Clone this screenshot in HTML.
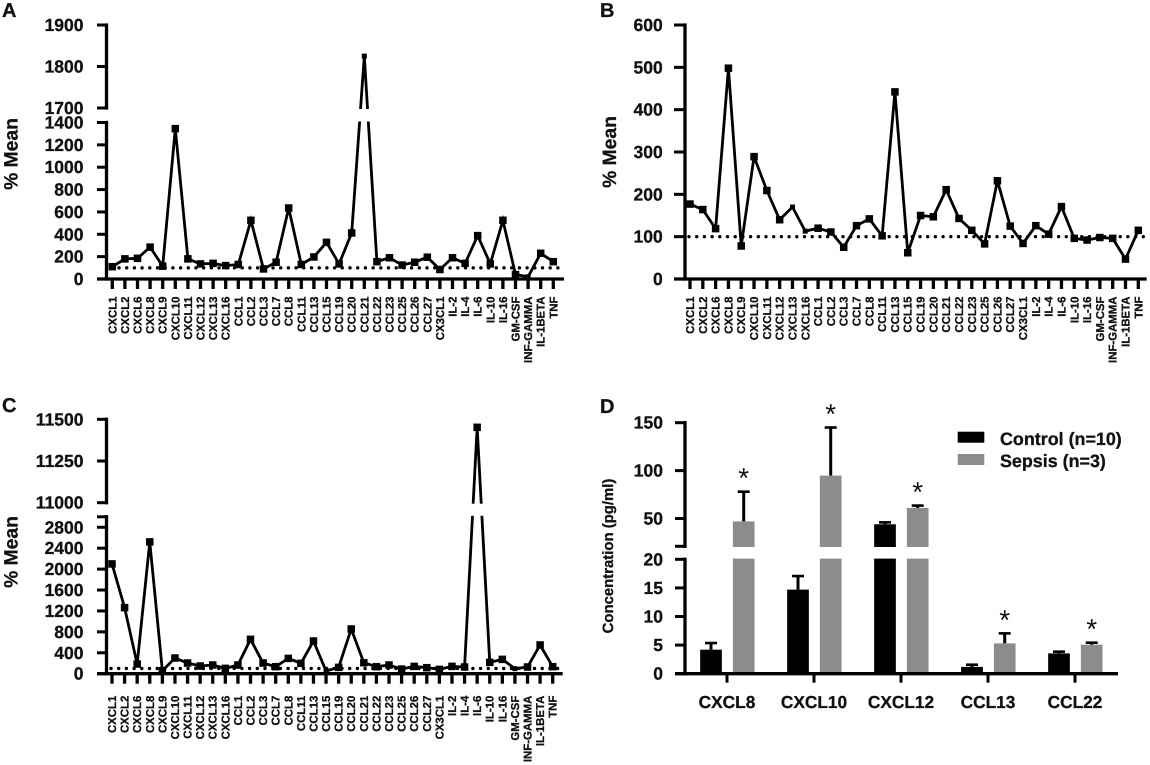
<!DOCTYPE html>
<html lang="en">
<head>
<meta charset="utf-8">
<title>Cytokine panels</title>
<style>
html,body{margin:0;padding:0;background:#fff;}
svg{display:block;font-family:"Liberation Sans",sans-serif;font-weight:bold;fill:#111;}
svg text{stroke:#111;stroke-width:.3px;text-rendering:geometricPrecision;}
svg text.star{stroke:none;}
</style>
</head>
<body>
<svg id="figure" xmlns="http://www.w3.org/2000/svg" width="1150" height="765" viewBox="0 0 1150 765">
  <rect x="0" y="0" width="1150" height="765" fill="#fff"/>
  <text x="2" y="17" font-size="20">A</text>
  <text x="600" y="17" font-size="20">B</text>
  <text x="2" y="412" font-size="20">C</text>
  <text x="600" y="413" font-size="20">D</text>
  <text transform="translate(17.5,154) rotate(-90)" text-anchor="middle" font-size="19.3">% Mean</text>
  <text transform="translate(616,152) rotate(-90)" text-anchor="middle" font-size="19.3">% Mean</text>
  <text transform="translate(17.5,552) rotate(-90)" text-anchor="middle" font-size="19.3">% Mean</text>
  <text transform="translate(613,556) rotate(-90)" text-anchor="middle" font-size="14.9">Concentration (pg/ml)</text>
  <g id="panel-a"></g>
  <g id="panel-b"></g>
  <g id="panel-c"></g>
  <g id="panel-d"></g>
  <g>
    <rect x="957.7" y="431.7" width="26.6" height="11" fill="#000"/>
    <rect x="957.7" y="454" width="26.6" height="11" fill="#8c8c8c"/>
    <text x="1000" y="445" font-size="17.9">Control (n=10)</text>
    <text x="1000" y="467" font-size="17.9">Sepsis (n=3)</text>
  </g>
</svg>
<script>
const categories = ['CXCL1','CXCL2','CXCL6','CXCL8','CXCL9','CXCL10','CXCL11','CXCL12','CXCL13','CXCL16','CCL1','CCL2','CCL3','CCL7','CCL8','CCL11','CCL13','CCL15','CCL19','CCL20','CCL21','CCL22','CCL23','CCL25','CCL26','CCL27','CX3CL1','IL-2','IL-4','IL-6','IL-10','IL-16','GM-CSF','INF-GAMMA','IL-1BETA','TNF'];
const panelAValues = [110,180,185,285,115,1345,180,135,140,120,130,525,90,150,635,130,197,328,135,412,1825,155,190,125,150,195,85,190,140,388,135,525,40,20,230,155];
const panelBValues = [177,164,119,498,78,289,209,140,170,113,120,111,75,126,142,102,442,62,150,147,211,143,115,83,232,125,84,126,106,171,96,92,98,96,47,115];
const panelCValues = [2099,1263,185,2520,57,300,204,147,166,102,166,657,204,134,293,198,625,51,121,855,210,134,166,89,140,115,83,140,128,11452,217,274,96,128,549,134];
const referenceLevel = 100;
const panelASmallMarkers = ['CCL21','INF-GAMMA'];
const panelBSmallMarkers = ['CXCL13','CXCL16'];
const panelCSmallMarkers = ['GM-CSF','CCL15'];
const panelATicks = [0,200,400,600,800,1000,1200,1400,1700,1800,1900];
const panelBTicks = [0,100,200,300,400,500,600];
const panelCTicks = [0,400,800,1200,1600,2000,2400,2800,11000,11250,11500];
const barCategories = ['CXCL8','CXCL10','CXCL12','CCL13','CCL22'];
const controlMeans = [4.2,14.7,44,1.2,3.55];
const controlErrorTops = [5.36,17.07,46,1.57,3.85];
const sepsisMeans = [47,94.8,61,5.3,5.07];
const sepsisErrorTops = [78,145,63.5,7.05,5.42];
const panelDTicks = [0,5,10,15,20,50,100,150];

const NS = 'http://www.w3.org/2000/svg';
function make(parent, tag, attrs, text) {
  const el = document.createElementNS(NS, tag);
  for (const k in attrs) el.setAttribute(k, attrs[k]);
  if (text !== undefined) el.textContent = text;
  parent.appendChild(el);
  return el;
}
function linear(d0, d1, r0, r1) {
  return v => r0 + (v - d0) * (r1 - r0) / (d1 - d0);
}
function brokenScale(low, high) {
  const a = linear(low.d[0], low.d[1], low.r[0], low.r[1]);
  if (!high) return a;
  const b = linear(high.d[0], high.d[1], high.r[0], high.r[1]);
  const m = linear(low.d[1], high.d[0], low.r[1], high.r[0]);
  return v => v <= low.d[1] ? a(v) : v >= high.d[0] ? b(v) : m(v);
}
function drawYAxis(g, axisX, tickLeft, labelRight, low, high, y, ticks) {
  let el = make(g, 'line', {x1: axisX, x2: axisX, y1: low.r[0], y2: low.r[1], stroke: '#000', 'stroke-width': 3.3, 'stroke-linecap': 'square'});
  
  
  if (high) {
    el = make(g, 'line', {x1: axisX, x2: axisX, y1: high.r[0], y2: high.r[1], stroke: '#000', 'stroke-width': 3.3, 'stroke-linecap': 'square'});
    
    
  }
  const unlabelled = [low.d[1], high ? high.d[0] : low.d[1]].filter(v => !ticks.includes(v));
  unlabelled.forEach(v => {
    const t = make(g, 'line', {x1: tickLeft, x2: axisX, y1: y(v), y2: y(v), stroke: '#000', 'stroke-width': 3});
    
    
  });
  ticks.forEach(v => {
    const t = make(g, 'line', {x1: tickLeft, x2: axisX, y1: y(v), y2: y(v), stroke: '#000', 'stroke-width': 3});
    
    
    const l = make(g, 'text', {x: labelRight, y: y(v) + 6, 'text-anchor': 'end', 'font-size': 17.5}, String(v));
    
    
  });
}
function drawLinePanel(id, values, smallMarkers, ticks, cfg) {
  const g = document.getElementById(id);
  const x = linear(0, categories.length - 1, cfg.x0, cfg.x1);
  const y = brokenScale(cfg.low, cfg.high);
  const ref = make(g, 'line', {x1: cfg.x0 - 1, x2: cfg.dotEnd, y1: y(referenceLevel), y2: y(referenceLevel), stroke: '#000', 'stroke-width': 3.4, 'stroke-dasharray': '0 7.7', 'stroke-linecap': 'round'});
  
  
  const pts = values.map((v, i) => x(i).toFixed(2) + ',' + y(v).toFixed(2)).join(' ');
  const line = make(g, 'polyline', {points: pts, fill: 'none', stroke: '#000', 'stroke-width': 2.8, 'stroke-linejoin': 'miter'});
  
  
  values.forEach((v, i) => {
    const s = smallMarkers.includes(categories[i]) ? 5 : 7.5;
    const m = make(g, 'rect', {x: x(i) - s / 2, y: y(v) - s / 2, width: s, height: s, fill: '#000'});
    
    
  });
  if (cfg.high) {
    const gap = make(g, 'rect', {x: cfg.axisX + 2, y: cfg.high.r[0] + 1, width: cfg.xEnd - cfg.axisX, height: cfg.low.r[1] - cfg.high.r[0] - 2, fill: '#fff'});
    
    
  }
  drawYAxis(g, cfg.axisX, cfg.tickLeft, cfg.labelRight, cfg.low, cfg.high, y, ticks);
  const y0 = y(0);
  const axis = make(g, 'line', {x1: cfg.tickLeft, x2: cfg.xEnd, y1: y0, y2: y0, stroke: '#000', 'stroke-width': 3.3});
  
  
  categories.forEach((c, i) => {
    const t = make(g, 'line', {x1: x(i), x2: x(i), y1: y0, y2: y0 + 10, stroke: '#000', 'stroke-width': 3.3});
    
    
    const l = make(g, 'text', {transform: 'translate(' + (x(i) + 4) + ',' + (y0 + cfg.labelGap) + ') rotate(-90)', 'text-anchor': 'end', 'font-size': 11.4}, c);
    
    
  });
}
function drawBarPanel() {
  const g = document.getElementById('panel-d');
  const low = {d: [0, 20], r: [673.7, 559.3]};
  const high = {d: [21, 150], r: [546.3, 422.7]};
  const y = brokenScale(low, high);
  const x = linear(0, barCategories.length - 1, 727, 1075);
  const barW = 21.7;
  function drawErr(cx, top, base, name) {
    const st = make(g, 'line', {x1: cx, x2: cx, y1: y(top), y2: y(base), stroke: '#000', 'stroke-width': 3});
    
    
    const cap = make(g, 'line', {x1: cx - 6, x2: cx + 6, y1: y(top), y2: y(top), stroke: '#000', 'stroke-width': 2.6});
    
    
  }
  barCategories.forEach((c, i) => {
    const cx1 = x(i) - 16, cx2 = x(i) + 16.7;
    drawErr(cx1, controlErrorTops[i], controlMeans[i], 'control-' + c.toLowerCase());
    drawErr(cx2, sepsisErrorTops[i], sepsisMeans[i], 'sepsis-' + c.toLowerCase());
    const b1 = make(g, 'rect', {x: cx1 - barW / 2, y: y(controlMeans[i]), width: barW, height: y(0) - y(controlMeans[i]), fill: '#000'});
    
    
    const b2 = make(g, 'rect', {x: cx2 - barW / 2, y: y(sepsisMeans[i]), width: barW, height: y(0) - y(sepsisMeans[i]), fill: '#8c8c8c'});
    
    
    const star = make(g, 'text', {class: 'star', x: cx2, y: y(sepsisErrorTops[i]) - 4, 'text-anchor': 'middle', 'font-size': 28, 'font-weight': 'normal'}, '*');
    
    
  });
  const gap = make(g, 'rect', {x: 687, y: 547, width: 430, height: 11.6, fill: '#fff'});
  
  
  drawYAxis(g, 685, 675, 663, low, high, y, panelDTicks);
  const axis = make(g, 'line', {x1: 675, x2: 1118, y1: y(0), y2: y(0), stroke: '#000', 'stroke-width': 3.3});
  
  
  barCategories.forEach((c, i) => {
    const t = make(g, 'line', {x1: x(i), x2: x(i), y1: y(0), y2: y(0) + 9, stroke: '#000', 'stroke-width': 3});
    
    
    const l = make(g, 'text', {x: x(i), y: 708, 'text-anchor': 'middle', 'font-size': 17.3}, c);
    
    
  });
}
drawLinePanel('panel-a', panelAValues, panelASmallMarkers, panelATicks, {
  x0: 112.3, x1: 553.3, axisX: 106.5, tickLeft: 97, labelRight: 83.5, xEnd: 564, dotEnd: 564, labelGap: 17.5,
  low: {d: [0, 1400], r: [279, 122.5]}, high: {d: [1700, 1900], r: [108, 25]}
});
drawLinePanel('panel-b', panelBValues, panelBSmallMarkers, panelBTicks, {
  x0: 690, x1: 1138.3, axisX: 685, tickLeft: 674, labelRight: 662.7, xEnd: 1146.7, dotEnd: 1149, labelGap: 17.5,
  low: {d: [0, 600], r: [279, 25]}, high: null
});
drawLinePanel('panel-c', panelCValues, panelCSmallMarkers, panelCTicks, {
  x0: 112, x1: 552.7, axisX: 106.5, tickLeft: 97, labelRight: 83.5, xEnd: 562.7, dotEnd: 561, labelGap: 22,
  low: {d: [0, 3000], r: [673.7, 516.8]}, high: {d: [11000, 11500], r: [502.7, 419.3]}
});
drawBarPanel();
</script>
</body>
</html>
